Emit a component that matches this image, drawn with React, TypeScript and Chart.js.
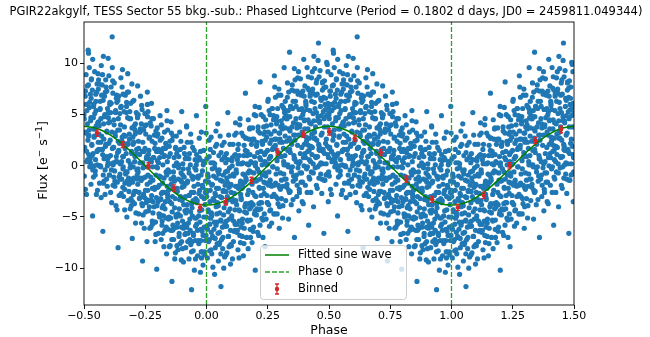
import React, { useEffect, useRef } from "react";
import { Chart, registerables } from "chart.js";

Chart.register(...registerables);

const TITLE =
  "PGIR22akgylf, TESS Sector 55 bkg.-sub.: Phased Lightcurve (Period = 0.1802 d days, JD0 = 2459811.049344)";
const X_LABEL = "Phase";
const LEGEND_LABELS = ["Fitted sine wave", "Phase 0", "Binned"];

const xTickValues = [-0.5, -0.25, 0, 0.25, 0.5, 0.75, 1, 1.25, 1.5];
const yTickValues = [-10, -5, 0, 5, 10];
const xRange = [-0.5, 1.5];
const yRange = [-13.6, 14.05];
const phaseZero = [0, 1];

const sinePhase = [
  -0.5, -0.45, -0.4, -0.35, -0.3, -0.25, -0.2, -0.15, -0.1, -0.05,
  0, 0.05, 0.1, 0.15, 0.2, 0.25, 0.3, 0.35, 0.4, 0.45,
  0.5, 0.55, 0.6, 0.65, 0.7, 0.75, 0.8, 0.85, 0.9, 0.95,
  1, 1.05, 1.1, 1.15, 1.2, 1.25, 1.3, 1.35, 1.4, 1.45, 1.5,
];
const sineFlux = [
  3.86, 3.67, 3.12, 2.27, 1.2, 0.01, -1.18, -2.25, -3.1, -3.65,
  -3.84, -3.65, -3.1, -2.25, -1.18, 0.01, 1.2, 2.27, 3.12, 3.67,
  3.86, 3.67, 3.12, 2.27, 1.2, 0.01, -1.18, -2.25, -3.1, -3.65,
  -3.84, -3.65, -3.1, -2.25, -1.18, 0.01, 1.2, 2.27, 3.12, 3.67, 3.86,
];

const binPhase = [
  -0.447, -0.342, -0.237, -0.132, -0.026, 0.079, 0.184, 0.289, 0.395, 0.5,
  0.605, 0.711, 0.816, 0.921, 1.026, 1.132, 1.237, 1.342, 1.447,
];
const binFlux = [
  3.2, 2.09, 0.0, -2.18, -4.06, -3.51, -1.42, 1.34, 3.09, 3.32,
  2.7, 1.31, -1.3, -3.28, -4.06, -2.89, 0.0, 2.48, 3.55,
];
const binErr = [
  0.32, 0.3, 0.3, 0.32, 0.3, 0.32, 0.3, 0.3, 0.3, 0.32,
  0.3, 0.3, 0.32, 0.3, 0.3, 0.32, 0.3, 0.3, 0.32,
];

// Observed (phase-folded) points, one cycle in [0, 1); shown twice across the axis
const obsPhase = [
  0.001, 0.004, 0.007, 0.009, 0.011, 0.013, 0.015, 0.017, 0.019,
  0.021, 0.024, 0.026, 0.028, 0.031, 0.033, 0.035, 0.037, 0.039,
  0.041, 0.043, 0.046, 0.048, 0.05, 0.052, 0.054, 0.057, 0.059,
  0.061, 0.063, 0.065, 0.068, 0.07, 0.072, 0.074, 0.076, 0.079,
  0.081, 0.083, 0.085, 0.087, 0.09, 0.092, 0.094, 0.096, 0.098,
  0.101, 0.103, 0.106, 0.108, 0.11, 0.112, 0.115, 0.117, 0.119,
  0.121, 0.123, 0.126, 0.128, 0.13, 0.133, 0.135, 0.137, 0.139,
  0.141, 0.144, 0.146, 0.148, 0.15, 0.153, 0.155, 0.157, 0.159,
  0.161, 0.163, 0.166, 0.168, 0.17, 0.172, 0.175, 0.177, 0.179,
  0.181, 0.183, 0.186, 0.188, 0.19, 0.193, 0.195, 0.197, 0.199,
  0.201, 0.204, 0.206, 0.208, 0.211, 0.213, 0.215, 0.217, 0.219,
  0.221, 0.223, 0.226, 0.228, 0.23, 0.232, 0.235, 0.237, 0.239,
  0.241, 0.243, 0.245, 0.248, 0.25, 0.252, 0.255, 0.257, 0.259,
  0.261, 0.263, 0.266, 0.268, 0.27, 0.273, 0.275, 0.277, 0.279,
  0.281, 0.284, 0.286, 0.288, 0.29, 0.293, 0.295, 0.297, 0.299,
  0.301, 0.303, 0.306, 0.308, 0.31, 0.312, 0.315, 0.317, 0.319,
  0.321, 0.323, 0.326, 0.328, 0.33, 0.332, 0.335, 0.337, 0.339,
  0.341, 0.344, 0.346, 0.348, 0.35, 0.353, 0.355, 0.357, 0.359,
  0.361, 0.363, 0.366, 0.368, 0.37, 0.372, 0.375, 0.377, 0.379,
  0.381, 0.383, 0.386, 0.388, 0.39, 0.393, 0.395, 0.397, 0.399,
  0.401, 0.404, 0.406, 0.408, 0.411, 0.413, 0.415, 0.417, 0.419,
  0.421, 0.423, 0.426, 0.428, 0.43, 0.432, 0.435, 0.437, 0.439,
  0.441, 0.443, 0.445, 0.448, 0.45, 0.452, 0.455, 0.457, 0.459,
  0.461, 0.463, 0.466, 0.468, 0.47, 0.473, 0.475, 0.477, 0.479,
  0.481, 0.484, 0.486, 0.488, 0.49, 0.493, 0.495, 0.497, 0.499,
  0.501, 0.503, 0.506, 0.508, 0.51, 0.512, 0.515, 0.517, 0.519,
  0.521, 0.523, 0.526, 0.528, 0.53, 0.532, 0.535, 0.537, 0.539,
  0.541, 0.544, 0.546, 0.548, 0.55, 0.553, 0.555, 0.557, 0.559,
  0.561, 0.563, 0.566, 0.568, 0.57, 0.572, 0.575, 0.577, 0.579,
  0.581, 0.583, 0.586, 0.588, 0.59, 0.593, 0.595, 0.597, 0.599,
  0.601, 0.604, 0.606, 0.608, 0.611, 0.613, 0.615, 0.617, 0.619,
  0.621, 0.623, 0.626, 0.628, 0.63, 0.632, 0.635, 0.637, 0.639,
  0.641, 0.643, 0.645, 0.648, 0.65, 0.652, 0.655, 0.657, 0.659,
  0.661, 0.663, 0.666, 0.668, 0.67, 0.673, 0.675, 0.677, 0.679,
  0.681, 0.684, 0.686, 0.688, 0.69, 0.693, 0.695, 0.697, 0.699,
  0.701, 0.703, 0.706, 0.708, 0.71, 0.712, 0.715, 0.717, 0.719,
  0.721, 0.723, 0.726, 0.728, 0.73, 0.732, 0.735, 0.737, 0.739,
  0.741, 0.743, 0.745, 0.748, 0.75, 0.752, 0.755, 0.757, 0.759,
  0.761, 0.763, 0.766, 0.768, 0.77, 0.773, 0.775, 0.777, 0.779,
  0.781, 0.783, 0.786, 0.788, 0.79, 0.793, 0.795, 0.797, 0.799,
  0.801, 0.804, 0.806, 0.808, 0.811, 0.813, 0.815, 0.817, 0.819,
  0.821, 0.823, 0.826, 0.828, 0.83, 0.832, 0.835, 0.837, 0.839,
  0.841, 0.843, 0.845, 0.848, 0.85, 0.852, 0.855, 0.857, 0.859,
  0.861, 0.863, 0.866, 0.868, 0.87, 0.873, 0.875, 0.877, 0.879,
  0.881, 0.884, 0.886, 0.888, 0.89, 0.893, 0.895, 0.897, 0.899,
  0.901, 0.903, 0.906, 0.908, 0.91, 0.912, 0.915, 0.917, 0.919,
  0.921, 0.923, 0.926, 0.928, 0.93, 0.932, 0.935, 0.937, 0.939,
  0.941, 0.944, 0.946, 0.948, 0.95, 0.953, 0.955, 0.957, 0.959,
  0.961, 0.963, 0.966, 0.968, 0.97, 0.972, 0.975, 0.977, 0.979,
  0.981, 0.983, 0.986, 0.988, 0.99, 0.993, 0.995, 0.997, 0.999,
  // second batch
  0.0, 0.002, 0.005, 0.007, 0.009, 0.012, 0.014, 0.016, 0.018, 0.0195,
  0.02, 0.022, 0.025, 0.027, 0.029, 0.032, 0.034, 0.036, 0.038, 0.0395,
  0.04, 0.042, 0.045, 0.047, 0.049, 0.052, 0.054, 0.056, 0.058, 0.0595,
  0.06, 0.062, 0.065, 0.067, 0.069, 0.072, 0.074, 0.076, 0.078, 0.0795,
  0.08, 0.082, 0.085, 0.087, 0.089, 0.092, 0.094, 0.096, 0.098, 0.0995,
  0.1, 0.102, 0.105, 0.107, 0.109, 0.112, 0.114, 0.116, 0.118, 0.1195,
  0.12, 0.122, 0.125, 0.127, 0.129, 0.132, 0.134, 0.136, 0.138, 0.1395,
  0.14, 0.142, 0.145, 0.147, 0.149, 0.152, 0.154, 0.156, 0.158, 0.1595,
  0.16, 0.162, 0.165, 0.167, 0.169, 0.172, 0.174, 0.176, 0.178, 0.1795,
  0.18, 0.182, 0.185, 0.187, 0.189, 0.192, 0.194, 0.196, 0.198, 0.1995,
  0.2, 0.202, 0.205, 0.207, 0.209, 0.212, 0.214, 0.216, 0.218, 0.2195,
  0.22, 0.222, 0.225, 0.227, 0.229, 0.232, 0.234, 0.236, 0.238, 0.2395,
  0.24, 0.242, 0.245, 0.247, 0.249, 0.252, 0.254, 0.256, 0.258, 0.2595,
  0.26, 0.262, 0.265, 0.267, 0.269, 0.272, 0.274, 0.276, 0.278, 0.2795,
  0.28, 0.282, 0.285, 0.287, 0.289, 0.292, 0.294, 0.296, 0.298, 0.2995,
  0.3, 0.302, 0.305, 0.307, 0.309, 0.312, 0.314, 0.316, 0.318, 0.3195,
  0.32, 0.322, 0.325, 0.327, 0.329, 0.332, 0.334, 0.336, 0.338, 0.3395,
  0.34, 0.342, 0.345, 0.347, 0.349, 0.352, 0.354, 0.356, 0.358, 0.3595,
  0.36, 0.362, 0.365, 0.367, 0.369, 0.372, 0.374, 0.376, 0.378, 0.3795,
  0.38, 0.382, 0.385, 0.387, 0.389, 0.392, 0.394, 0.396, 0.398, 0.3995,
  0.4, 0.402, 0.405, 0.407, 0.409, 0.412, 0.414, 0.416, 0.418, 0.4195,
  0.42, 0.422, 0.425, 0.427, 0.429, 0.432, 0.434, 0.436, 0.438, 0.4395,
  0.44, 0.442, 0.445, 0.447, 0.449, 0.452, 0.454, 0.456, 0.458, 0.4595,
  0.46, 0.462, 0.465, 0.467, 0.469, 0.472, 0.474, 0.476, 0.478, 0.4795,
  0.48, 0.482, 0.485, 0.487, 0.489, 0.492, 0.494, 0.496, 0.498, 0.4995,
  0.5, 0.502, 0.505, 0.507, 0.509, 0.512, 0.514, 0.516, 0.518, 0.5195,
  0.52, 0.522, 0.525, 0.527, 0.529, 0.532, 0.534, 0.536, 0.538, 0.5395,
  0.54, 0.542, 0.545, 0.547, 0.549, 0.552, 0.554, 0.556, 0.558, 0.5595,
  0.56, 0.562, 0.565, 0.567, 0.569, 0.572, 0.574, 0.576, 0.578, 0.5795,
  0.58, 0.582, 0.585, 0.587, 0.589, 0.592, 0.594, 0.596, 0.598, 0.5995,
  0.6, 0.602, 0.605, 0.607, 0.609, 0.612, 0.614, 0.616, 0.618, 0.6195,
  0.62, 0.622, 0.625, 0.627, 0.629, 0.632, 0.634, 0.636, 0.638, 0.6395,
  0.64, 0.642, 0.645, 0.647, 0.649, 0.652, 0.654, 0.656, 0.658, 0.6595,
  0.66, 0.662, 0.665, 0.667, 0.669, 0.672, 0.674, 0.676, 0.678, 0.6795,
  0.68, 0.682, 0.685, 0.687, 0.689, 0.692, 0.694, 0.696, 0.698, 0.6995,
  0.7, 0.702, 0.705, 0.707, 0.709, 0.712, 0.714, 0.716, 0.718, 0.7195,
  0.72, 0.722, 0.725, 0.727, 0.729, 0.732, 0.734, 0.736, 0.738, 0.7395,
  0.74, 0.742, 0.745, 0.747, 0.749, 0.752, 0.754, 0.756, 0.758, 0.7595,
  0.76, 0.762, 0.765, 0.767, 0.769, 0.772, 0.774, 0.776, 0.778, 0.7795,
  0.78, 0.782, 0.785, 0.787, 0.789, 0.792, 0.794, 0.796, 0.798, 0.7995,
  0.8, 0.802, 0.805, 0.807, 0.809, 0.812, 0.814, 0.816, 0.818, 0.8195,
  0.82, 0.822, 0.825, 0.827, 0.829, 0.832, 0.834, 0.836, 0.838, 0.8395,
  0.84, 0.842, 0.845, 0.847, 0.849, 0.852, 0.854, 0.856, 0.858, 0.8595,
  0.86, 0.862, 0.865, 0.867, 0.869, 0.872, 0.874, 0.876, 0.878, 0.8795,
  0.88, 0.882, 0.885, 0.887, 0.889, 0.892, 0.894, 0.896, 0.898, 0.8995,
  0.9, 0.902, 0.905, 0.907, 0.909, 0.912, 0.914, 0.916, 0.918, 0.9195,
  0.92, 0.922, 0.925, 0.927, 0.929, 0.932, 0.934, 0.936, 0.938, 0.9395,
  0.94, 0.942, 0.945, 0.947, 0.949, 0.952, 0.954, 0.956, 0.958, 0.9595,
  0.96, 0.962, 0.965, 0.967, 0.969, 0.972, 0.974, 0.976, 0.978, 0.9795,
  0.98, 0.982, 0.985, 0.987, 0.989, 0.992, 0.994, 0.996, 0.998, 0.9995,
  // third batch (wider band)
  0.0015, 0.0035, 0.006, 0.0085, 0.0105, 0.0135, 0.0155, 0.0185,
  0.0215, 0.0235, 0.026, 0.0285, 0.0305, 0.0335, 0.0355, 0.0385,
  0.0415, 0.0435, 0.046, 0.0485, 0.0505, 0.0535, 0.0555, 0.0585,
  0.0615, 0.0635, 0.066, 0.0685, 0.0705, 0.0735, 0.0755, 0.0785,
  0.0815, 0.0835, 0.086, 0.0885, 0.0905, 0.0935, 0.0955, 0.0985,
  0.1015, 0.1035, 0.106, 0.1085, 0.1105, 0.1135, 0.1155, 0.1185,
  0.1215, 0.1235, 0.126, 0.1285, 0.1305, 0.1335, 0.1355, 0.1385,
  0.1415, 0.1435, 0.146, 0.1485, 0.1505, 0.1535, 0.1555, 0.1585,
  0.1615, 0.1635, 0.166, 0.1685, 0.1705, 0.1735, 0.1755, 0.1785,
  0.1815, 0.1835, 0.186, 0.1885, 0.1905, 0.1935, 0.1955, 0.1985,
  0.2015, 0.2035, 0.206, 0.2085, 0.2105, 0.2135, 0.2155, 0.2185,
  0.2215, 0.2235, 0.226, 0.2285, 0.2305, 0.2335, 0.2355, 0.2385,
  0.2415, 0.2435, 0.246, 0.2485, 0.2505, 0.2535, 0.2555, 0.2585,
  0.2615, 0.2635, 0.266, 0.2685, 0.2705, 0.2735, 0.2755, 0.2785,
  0.2815, 0.2835, 0.286, 0.2885, 0.2905, 0.2935, 0.2955, 0.2985,
  0.3015, 0.3035, 0.306, 0.3085, 0.3105, 0.3135, 0.3155, 0.3185,
  0.3215, 0.3235, 0.326, 0.3285, 0.3305, 0.3335, 0.3355, 0.3385,
  0.3415, 0.3435, 0.346, 0.3485, 0.3505, 0.3535, 0.3555, 0.3585,
  0.3615, 0.3635, 0.366, 0.3685, 0.3705, 0.3735, 0.3755, 0.3785,
  0.3815, 0.3835, 0.386, 0.3885, 0.3905, 0.3935, 0.3955, 0.3985,
  0.4015, 0.4035, 0.406, 0.4085, 0.4105, 0.4135, 0.4155, 0.4185,
  0.4215, 0.4235, 0.426, 0.4285, 0.4305, 0.4335, 0.4355, 0.4385,
  0.4415, 0.4435, 0.446, 0.4485, 0.4505, 0.4535, 0.4555, 0.4585,
  0.4615, 0.4635, 0.466, 0.4685, 0.4705, 0.4735, 0.4755, 0.4785,
  0.4815, 0.4835, 0.486, 0.4885, 0.4905, 0.4935, 0.4955, 0.4985,
  0.5015, 0.5035, 0.506, 0.5085, 0.5105, 0.5135, 0.5155, 0.5185,
  0.5215, 0.5235, 0.526, 0.5285, 0.5305, 0.5335, 0.5355, 0.5385,
  0.5415, 0.5435, 0.546, 0.5485, 0.5505, 0.5535, 0.5555, 0.5585,
  0.5615, 0.5635, 0.566, 0.5685, 0.5705, 0.5735, 0.5755, 0.5785,
  0.5815, 0.5835, 0.586, 0.5885, 0.5905, 0.5935, 0.5955, 0.5985,
  0.6015, 0.6035, 0.606, 0.6085, 0.6105, 0.6135, 0.6155, 0.6185,
  0.6215, 0.6235, 0.626, 0.6285, 0.6305, 0.6335, 0.6355, 0.6385,
  0.6415, 0.6435, 0.646, 0.6485, 0.6505, 0.6535, 0.6555, 0.6585,
  0.6615, 0.6635, 0.666, 0.6685, 0.6705, 0.6735, 0.6755, 0.6785,
  0.6815, 0.6835, 0.686, 0.6885, 0.6905, 0.6935, 0.6955, 0.6985,
  0.7015, 0.7035, 0.706, 0.7085, 0.7105, 0.7135, 0.7155, 0.7185,
  0.7215, 0.7235, 0.726, 0.7285, 0.7305, 0.7335, 0.7355, 0.7385,
  0.7415, 0.7435, 0.746, 0.7485, 0.7505, 0.7535, 0.7555, 0.7585,
  0.7615, 0.7635, 0.766, 0.7685, 0.7705, 0.7735, 0.7755, 0.7785,
  0.7815, 0.7835, 0.786, 0.7885, 0.7905, 0.7935, 0.7955, 0.7985,
  0.8015, 0.8035, 0.806, 0.8085, 0.8105, 0.8135, 0.8155, 0.8185,
  0.8215, 0.8235, 0.826, 0.8285, 0.8305, 0.8335, 0.8355, 0.8385,
  0.8415, 0.8435, 0.846, 0.8485, 0.8505, 0.8535, 0.8555, 0.8585,
  0.8615, 0.8635, 0.866, 0.8685, 0.8705, 0.8735, 0.8755, 0.8785,
  0.8815, 0.8835, 0.886, 0.8885, 0.8905, 0.8935, 0.8955, 0.8985,
  0.9015, 0.9035, 0.906, 0.9085, 0.9105, 0.9135, 0.9155, 0.9185,
  0.9215, 0.9235, 0.926, 0.9285, 0.9305, 0.9335, 0.9355, 0.9385,
  0.9415, 0.9435, 0.946, 0.9485, 0.9505, 0.9535, 0.9555, 0.9585,
  0.9615, 0.9635, 0.966, 0.9685, 0.9705, 0.9735, 0.9755, 0.9785,
  0.9815, 0.9835, 0.986, 0.9885, 0.9905, 0.9935, 0.9955, 0.9985,
];
const obsFlux = [
  -3.0, -6.2, -1.1, -4.5, 0.9, -8.3, -2.4, -5.1, 2.8,
  -4.9, -1.8, -7.0, 0.3, -3.4, -10.6, -2.7, 1.9, -5.8,
  -2.2, -5.5, 4.1, -3.9, -0.8, -7.7, -4.6, -1.4, -11.8,
  -3.1, 0.6, -6.0, -2.5, -4.8, 2.3, -8.9, -1.9, -3.6,
  -5.4, -1.2, -3.0, 5.2, -6.9, -2.1, -0.2, -4.2, -9.6,
  -2.6, -4.9, 0.8, -3.3, -7.4, -1.0, 3.0, -5.7, -2.0,
  -0.4, -3.8, -6.3, 1.6, -2.2, -9.0, -4.4, 4.6, -1.5,
  -3.1, 0.2, -5.6, -1.9, 2.9, -7.6, -0.9, -4.0, 7.1,
  -1.2, -4.6, 1.4, -2.8, -8.1, 0.1, -0.5, 3.7, -5.3,
  0.4, -3.6, -1.8, 2.6, -6.4, -0.7, 5.0, -2.9, -10.2,
  -1.5, 1.9, -4.2, -0.3, 3.4, -6.8, -2.1, 0.8, 8.2,
  0.6, -2.9, 2.4, -0.9, -5.3, 4.8, -1.6, 1.1, -7.9,
  1.3, -1.7, 3.9, -3.6, 0.2, 6.5, -0.6, -5.9, 2.2,
  0.9, 3.1, -2.0, 5.6, -0.1, 1.8, -4.7, 8.8, 2.6,
  2.0, -0.8, 4.4, 0.5, -3.2, 6.9, 1.3, -6.1, 3.2,
  1.0, 3.8, -1.4, 5.9, 2.3, -3.9, 0.4, 9.6, 4.7,
  2.9, 0.1, 4.9, -2.1, 6.7, 1.5, -5.2, 3.6, 11.1,
  3.4, 5.8, -0.2, 2.1, 7.9, -3.3, 4.2, 1.0, -7.0,
  2.5, 6.3, 0.4, 4.1, -1.9, 8.6, 3.0, -4.4, 5.5,
  4.0, 1.2, 7.1, -0.7, 3.3, 5.0, -3.7, 10.4, 2.1,
  3.6, 0.8, 5.9, 2.4, -2.6, 7.6, 4.5, -5.8, 1.5,
  4.2, 6.8, 1.9, -0.6, 3.1, 9.2, 5.1, -4.0, 2.7,
  3.3, 5.6, 0.9, 8.1, 2.5, -2.2, 4.8, 12.0, 1.6,
  4.4, 1.5, 6.6, 3.0, -1.3, 7.4, 0.2, 5.3, -6.6,
  3.8, 6.0, 2.2, -0.9, 4.9, 9.9, 1.1, -3.5, 5.7,
  4.6, 1.8, 7.3, 3.2, -2.8, 5.4, 0.6, 11.3, 2.9,
  3.5, 6.2, 0.3, 4.7, 8.4, 2.0, -4.9, 1.2, 5.8,
  2.8, 5.1, -0.5, 7.0, 3.9, 1.4, -2.4, 9.0, 4.3,
  3.1, 0.0, 5.6, 2.3, -3.1, 6.9, 1.6, -6.4, 10.7,
  2.6, 4.8, -0.4, 1.9, 7.7, 3.4, -2.0, 0.7, 5.2,
  2.2, -0.9, 4.3, 1.0, 6.1, -3.6, 12.6, 8.3, 0.1,
  1.8, 4.0, -1.5, 2.9, 0.4, 6.6, -4.3, 1.3, -8.0,
  1.4, -1.1, 3.5, 0.2, 5.7, -2.7, 2.4, 9.4, -0.3,
  0.9, 3.0, -2.3, 1.7, -0.8, 5.2, -5.0, 7.2, 2.1,
  0.5, -1.8, 2.6, -0.2, 4.6, -3.9, 1.2, -7.1, 6.3,
  -0.1, 2.3, -2.5, 0.9, 4.1, -4.6, 1.6, -0.9, 7.8,
  -0.6, 1.7, -3.2, 0.3, 3.6, -1.4, -5.6, 5.5, -9.3,
  -0.2, -2.8, 1.4, 3.9, -1.1, -4.5, 0.7, -7.4, 6.0,
  -0.9, 1.1, -3.4, 2.8, -1.6, -6.0, 0.4, 4.6, -2.2,
  -1.4, 0.8, -4.0, -2.3, 2.2, -6.7, -0.1, -10.1, 3.7,
  -2.1, 0.3, -4.7, -1.0, 2.5, -3.2, -7.2, 1.3, -5.4,
  -1.7, -3.9, 0.9, -2.6, -6.3, 1.7, -0.6, -8.6, 4.4,
  -2.8, -0.4, -5.2, 1.9, -3.5, -7.8, -1.3, 3.2, -11.3,
  -3.0, -5.8, -1.1, 0.8, -4.1, -8.5, -2.3, 2.9, -6.0,
  -2.5, -4.7, 0.1, -6.9, -3.3, 1.6, -1.4, -9.2, 5.3,
  -3.4, -0.9, -6.1, -2.0, 1.2, -4.4, -8.0, -1.7, 3.8,
  -3.8, -1.5, -5.6, 0.7, -2.9, -7.2, -4.5, 2.3, -12.1,
  -4.1, -1.3, -6.6, -2.6, 1.5, -5.1, -9.1, -0.4, 4.9,
  -3.6, -6.3, -1.0, -4.9, 0.8, -2.4, -10.4, -7.3, 3.3,
  -4.3, -1.9, -6.8, 0.4, -3.2, -8.7, -2.6, 5.8, -5.0,
  // second batch
  -2.6, -5.9, -0.8, -4.3, -1.6, -7.2, -3.5, -5.1, 0.3, -6.5,
  -4.6, -1.9, -6.9, -3.2, -1.0, -5.5, -0.2, -8.0, -2.9, -4.0,
  -1.2, -4.7, -3.6, -6.6, -2.2, -0.4, -7.5, -3.0, -5.3, 1.3,
  -5.4, -3.1, -1.5, -7.0, -2.4, -4.1, 0.9, -5.9, -0.6, -8.7,
  -2.5, -5.9, -1.6, 0.6, -4.5, -7.9, -3.3, -1.0, -6.3, -1.9,
  -1.8, -5.1, 0.0, -3.5, -0.8, -6.4, -2.7, -4.3, 1.1, -5.7,
  -3.4, -0.7, -5.7, -2.0, 0.2, -4.3, 1.0, -6.8, -1.7, -2.8,
  0.2, -3.3, -2.2, -5.2, -0.8, 1.0, -6.1, -1.6, -3.9, 2.7,
  -3.7, -1.4, 0.2, -5.3, -0.7, -2.4, 2.6, -4.2, 1.1, -7.0,
  -0.6, -4.0, 0.3, 2.5, -2.6, -6.0, -1.4, 0.9, -4.4, 0.0,
  0.3, -3.0, 2.1, -1.4, 1.3, -4.3, -0.6, -2.2, 3.2, -3.6,
  -1.3, 1.4, -3.6, 0.1, 2.3, -2.2, 3.1, -4.7, 0.4, -0.7,
  2.5, -1.0, 0.1, -2.9, 1.5, 3.3, -3.8, 0.7, -1.6, 5.0,
  -1.4, 0.9, 2.5, -3.0, 1.6, -0.1, 4.9, -1.9, 3.4, -4.7,
  1.7, -1.7, 2.6, 4.8, -0.3, -3.7, 0.9, 3.2, -2.1, 2.3,
  2.6, -0.7, 4.4, 0.9, 3.6, -2.0, 1.7, 0.1, 5.5, -1.3,
  1.0, 3.7, -1.3, 2.4, 4.6, 0.1, 5.4, -2.4, 2.7, 1.6,
  4.8, 1.3, 2.4, -0.6, 3.8, 5.6, -1.5, 3.0, 0.7, 7.3,
  0.7, 3.0, 4.6, -0.9, 3.7, 2.0, 7.0, 0.2, 5.5, -2.6,
  3.8, 0.4, 4.7, 6.9, 1.8, -1.6, 3.0, 5.3, 0.0, 4.4,
  4.5, 1.2, 6.3, 2.8, 5.5, -0.1, 3.6, 2.0, 7.4, 0.6,
  2.7, 5.4, 0.4, 4.1, 6.3, 1.8, 7.1, -0.7, 4.4, 3.3,
  6.2, 2.7, 3.8, 0.8, 5.2, 7.0, -0.1, 4.4, 2.1, 8.7,
  1.9, 4.2, 5.8, 0.3, 4.9, 3.2, 8.2, 1.4, 6.7, -1.4,
  4.6, 1.2, 5.5, 7.7, 2.6, -0.8, 3.8, 6.1, 0.8, 5.2,
  5.0, 1.7, 6.8, 3.3, 6.0, 0.4, 4.1, 2.5, 7.9, 1.1,
  3.0, 5.7, 0.7, 4.4, 6.6, 2.1, 7.4, -0.4, 4.7, 3.6,
  6.0, 2.9, 3.6, 0.6, 5.4, 7.2, 0.1, 4.2, 2.3, 8.4,
  1.6, 3.9, 5.5, 0.0, 4.6, 2.9, 7.9, 1.1, 6.4, -1.7,
  4.1, 0.7, 5.0, 7.2, 2.1, -1.3, 3.3, 5.6, 0.3, 4.7,
  4.2, 0.9, 6.0, 2.5, 5.2, -0.4, 3.3, 1.7, 7.1, 0.3,
  1.8, 4.5, -0.5, 3.2, 5.4, 0.9, 6.2, -1.6, 3.5, 2.4,
  4.6, 1.5, 2.2, -0.8, 4.0, 5.8, -1.3, 2.8, 0.9, 7.0,
  -0.1, 2.2, 3.8, -1.7, 2.9, 1.2, 6.2, -0.6, 4.7, -3.4,
  2.2, -1.2, 3.1, 5.3, 0.2, -3.2, 1.4, 3.7, -1.6, 2.8,
  2.1, -1.2, 3.9, 0.4, 3.1, -2.5, 1.2, -0.4, 5.0, -1.8,
  -0.3, 2.4, -2.6, 1.1, 3.3, -1.2, 4.1, -3.7, 1.4, 0.3,
  2.3, -1.2, -0.1, -3.1, 1.7, 3.1, -3.6, 0.9, -1.8, 4.8,
  -2.4, -0.1, 1.5, -4.0, 0.6, -1.1, 3.9, -2.9, 2.4, -5.7,
  -0.1, -3.5, 0.8, 3.0, -2.1, -5.5, -0.9, 1.4, -3.9, 0.5,
  -0.2, -3.5, 1.6, -1.9, 0.8, -4.8, -1.1, -2.7, 2.7, -4.1,
  -2.6, 0.1, -4.9, -1.2, 1.0, -3.5, 1.8, -6.0, -0.9, -2.0,
  0.4, -3.1, -2.4, -5.0, -0.6, 1.2, -6.3, -1.8, -3.7, 2.5,
  -4.5, -2.2, -0.6, -6.1, -1.5, -3.2, 1.8, -5.0, 0.3, -7.8,
  -2.2, -5.6, -1.3, 0.9, -4.2, -7.6, -3.0, -0.7, -6.0, -1.6,
  -2.1, -5.4, -0.3, -3.8, -1.1, -6.7, -3.0, -4.6, 0.8, -6.0,
  -4.3, -1.6, -6.6, -2.9, -0.7, -5.2, 0.1, -7.7, -2.6, -3.7,
  -1.0, -4.9, -3.4, -6.8, -2.0, -0.2, -7.3, -3.2, -5.1, 1.1,
  -5.7, -3.4, -1.8, -7.3, -2.7, -4.4, 0.6, -6.2, -0.9, -9.0,
  -3.0, -6.4, -2.1, 0.1, -5.0, -8.4, -3.8, -1.5, -6.8, -2.4,
  // third batch
  0.7, -9.0, -1.0, -7.4, 2.5, -5.7, 1.6, -8.2,
  -8.6, -0.3, -9.9, 1.3, -6.2, 0.2, -7.1, 3.4,
  2.1, -7.6, -0.5, -9.3, 1.0, -6.5, 2.9, -8.6,
  -7.2, 2.0, -8.1, -0.9, -10.0, 0.8, -5.7, 0.3,
  1.2, -8.5, -0.5, -6.9, 3.0, -5.2, 2.1, -7.7,
  -7.8, 0.5, -9.1, 2.1, -5.4, 1.0, -6.3, 4.2,
  3.2, -6.5, 0.6, -8.2, 2.1, -5.4, 4.0, -7.5,
  -6.0, 3.2, -6.9, 0.3, -8.8, 2.0, -4.5, 1.5,
  2.7, -7.0, 1.0, -5.4, 4.5, -3.7, 3.6, -6.2,
  -6.2, 2.1, -7.5, 3.7, -3.8, 2.6, -4.7, 5.8,
  4.9, -4.8, 2.3, -6.5, 3.8, -3.7, 5.7, -5.8,
  -4.2, 5.0, -5.1, 2.1, -7.0, 3.8, -2.7, 3.3,
  4.5, -5.2, 2.8, -3.6, 6.3, -1.9, 5.4, -4.4,
  -4.3, 4.0, -5.6, 5.6, -1.9, 4.5, -2.8, 7.7,
  6.7, -3.0, 4.1, -4.7, 5.6, -1.9, 7.5, -4.0,
  -2.3, 6.9, -3.2, 4.0, -5.1, 5.7, -0.8, 5.2,
  6.3, -3.4, 4.6, -1.8, 8.1, -0.1, 7.2, -2.6,
  -2.5, 5.8, -3.8, 7.4, -0.1, 6.3, -1.0, 9.5,
  8.4, -1.3, 5.8, -3.0, 7.3, -0.2, 9.2, -2.3,
  -0.7, 8.5, -1.6, 5.6, -3.5, 7.3, 0.8, 6.8,
  7.8, -1.9, 6.1, -0.3, 9.6, 1.4, 8.7, -1.1,
  -1.3, 7.0, -2.6, 8.6, 1.1, 7.5, 0.2, 10.7,
  9.5, -0.2, 6.9, -1.9, 8.4, 0.9, 10.3, -1.2,
  0.1, 9.3, -0.8, 6.4, -2.7, 8.1, 1.6, 7.6,
  8.3, -1.4, 6.6, 0.2, 10.1, 1.9, 9.2, -0.6,
  -1.0, 7.3, -2.3, 8.9, 1.4, 7.8, 0.5, 11.0,
  9.6, -0.1, 7.0, -1.8, 8.5, 1.0, 10.4, -1.1,
  0.0, 9.2, -0.9, 6.3, -2.8, 8.0, 1.5, 7.5,
  8.0, -1.7, 6.3, -0.1, 9.8, 1.6, 8.9, -0.9,
  -1.5, 6.8, -2.8, 8.4, 0.9, 7.3, 0.0, 10.5,
  8.8, -0.9, 6.2, -2.6, 7.7, 0.2, 9.6, -1.9,
  -1.1, 8.1, -2.0, 5.2, -3.9, 6.9, 0.4, 6.4,
  6.8, -2.9, 5.1, -1.3, 8.6, 0.4, 7.7, -2.1,
  -3.0, 5.3, -4.3, 6.9, -0.6, 5.8, -1.5, 9.0,
  7.2, -2.5, 4.6, -4.2, 6.1, -1.4, 8.0, -3.5,
  -2.8, 6.4, -3.7, 3.5, -5.6, 5.2, -1.3, 4.7,
  5.0, -4.7, 3.3, -3.1, 6.8, -1.4, 5.9, -3.9,
  -4.8, 3.5, -6.1, 5.1, -2.4, 4.0, -3.3, 7.2,
  5.3, -4.4, 2.7, -6.1, 4.2, -3.3, 6.1, -5.4,
  -4.6, 4.6, -5.5, 1.7, -7.4, 3.4, -3.1, 2.9,
  3.1, -6.6, 1.4, -5.0, 4.9, -3.3, 4.0, -5.8,
  -6.6, 1.7, -7.9, 3.3, -4.2, 2.2, -5.1, 5.4,
  3.5, -6.2, 0.9, -7.9, 2.4, -5.1, 4.3, -7.2,
  -6.3, 2.9, -7.2, 0.0, -9.1, 1.7, -4.8, 1.2,
  1.5, -8.2, -0.2, -6.6, 3.3, -4.9, 2.4, -7.4,
  -8.1, 0.2, -9.4, 1.8, -5.7, 0.7, -6.6, 3.9,
  2.3, -7.4, -0.3, -9.1, 1.2, -6.3, 3.1, -8.4,
  -7.4, 1.8, -8.3, -1.1, -10.2, 0.6, -5.9, 0.1,
  0.5, -8.8, -1.2, -7.6, 2.7, -5.5, 1.4, -8.4,
  -8.4, -0.5, -9.7, 1.5, -6.0, 0.4, -7.3, 3.2,
];

const FONT = "'DejaVu Sans', sans-serif";
const OBS_COLOR = "#1f77b4";
const SINE_COLOR = "#008000";
const PHASE0_COLOR = "#2ca02c";
const BIN_COLOR = "#d62728";

function fmtX(v: number) {
  const s = Math.abs(v).toFixed(2);
  return v < 0 ? "\u2212" + s : s;
}
function fmtY(v: number) {
  const s = String(Math.abs(v));
  return v < 0 ? "\u2212" + s : s;
}

function drawErrorBar(ctx: CanvasRenderingContext2D, x: number, y1: number, y2: number, cap: number) {
  ctx.beginPath();
  ctx.moveTo(x, y1);
  ctx.lineTo(x, y2);
  ctx.moveTo(x - cap, y1);
  ctx.lineTo(x + cap, y1);
  ctx.moveTo(x - cap, y2);
  ctx.lineTo(x + cap, y2);
  ctx.stroke();
}

const decorPlugin = {
  id: "decor",
  beforeDatasetDraw(chart: any, args: any) {
    const ds = chart.data.datasets[args.index];
    if (ds.label !== "Binned") return;
    const ctx = chart.ctx as CanvasRenderingContext2D;
    const xs = chart.scales.x;
    const ys = chart.scales.y;
    ctx.save();
    ctx.strokeStyle = BIN_COLOR;
    ctx.lineWidth = 1.3;
    binPhase.forEach((p, i) => {
      const x = xs.getPixelForValue(p);
      const y1 = ys.getPixelForValue(binFlux[i] - binErr[i]);
      const y2 = ys.getPixelForValue(binFlux[i] + binErr[i]);
      drawErrorBar(ctx, x, y1, y2, 2);
    });
    ctx.restore();
  },
  afterDraw(chart: any) {
    const ctx = chart.ctx as CanvasRenderingContext2D;
    const a = chart.chartArea;
    ctx.save();
    // frame
    ctx.strokeStyle = "#000";
    ctx.lineWidth = 0.9;
    ctx.strokeRect(a.left, a.top, a.right - a.left, a.bottom - a.top);

    // title
    ctx.fillStyle = "#000";
    ctx.font = `11.5px ${FONT}`;
    ctx.textAlign = "center";
    ctx.textBaseline = "middle";
    ctx.fillText(TITLE, 326, 12);

    // x label
    ctx.font = `12.5px ${FONT}`;
    ctx.textBaseline = "alphabetic";
    ctx.fillText(X_LABEL, (a.left + a.right) / 2, 334);

    // y label with superscripts
    const segs: [string, boolean][] = [
      ["Flux [e", false],
      ["\u2212", true],
      [" s", false],
      ["\u22121", true],
      ["]", false],
    ];
    const big = `12.5px ${FONT}`;
    const small = `9px ${FONT}`;
    let total = 0;
    const widths = segs.map(([t, sup]) => {
      ctx.font = sup ? small : big;
      const w = ctx.measureText(t).width;
      total += w;
      return w;
    });
    ctx.translate(47, (a.top + a.bottom) / 2 - 3);
    ctx.rotate(-Math.PI / 2);
    ctx.textAlign = "left";
    let cx = -total / 2;
    segs.forEach(([t, sup], i) => {
      ctx.font = sup ? small : big;
      ctx.fillText(t, cx, sup ? -5 : 0);
      cx += widths[i];
    });
    ctx.setTransform(1, 0, 0, 1, 0, 0);

    // legend
    const lx = 260.5, ly = 245.5, lw = 146, lh = 54;
    ctx.beginPath();
    (ctx as any).roundRect(lx, ly, lw, lh, 3);
    ctx.fillStyle = "rgba(255,255,255,0.8)";
    ctx.fill();
    ctx.strokeStyle = "#cccccc";
    ctx.lineWidth = 1;
    ctx.stroke();

    const rows = [255, 272, 289];
    ctx.lineWidth = 1.5;
    ctx.strokeStyle = SINE_COLOR;
    ctx.beginPath();
    ctx.moveTo(265, rows[0]);
    ctx.lineTo(289, rows[0]);
    ctx.stroke();

    ctx.strokeStyle = PHASE0_COLOR;
    ctx.lineWidth = 1.3;
    ctx.setLineDash([5, 2]);
    ctx.beginPath();
    ctx.moveTo(265, rows[1]);
    ctx.lineTo(289, rows[1]);
    ctx.stroke();
    ctx.setLineDash([]);

    ctx.strokeStyle = BIN_COLOR;
    ctx.lineWidth = 1.3;
    drawErrorBar(ctx, 277, rows[2] - 5, rows[2] + 5, 2);
    ctx.fillStyle = BIN_COLOR;
    ctx.beginPath();
    ctx.arc(277, rows[2], 2.2, 0, Math.PI * 2);
    ctx.fill();

    ctx.fillStyle = "#000";
    ctx.font = `11.5px ${FONT}`;
    ctx.textAlign = "left";
    ctx.textBaseline = "middle";
    LEGEND_LABELS.forEach((t, i) => ctx.fillText(t, 298, rows[i] + 0.5));
    ctx.restore();
  },
};

export default function App() {
  const canvasRef = useRef<HTMLCanvasElement | null>(null);

  useEffect(() => {
    document.body.style.margin = "0";
    const canvas = canvasRef.current;
    if (!canvas) return;

    const obsPoints: { x: number; y: number }[] = [];
    obsPhase.forEach((p, i) => {
      [p - 1, p, p + 1].forEach((q) => {
        if (q >= xRange[0] && q <= xRange[1]) obsPoints.push({ x: q, y: obsFlux[i] });
      });
    });

    const sinePoints = sinePhase.map((p, i) => ({ x: p, y: sineFlux[i] }));
    const binPoints = binPhase.map((p, i) => ({ x: p, y: binFlux[i] }));

    const phaseDatasets = phaseZero.map((p) => ({
      type: "line" as const,
      label: "Phase 0",
      data: [
        { x: p, y: yRange[0] },
        { x: p, y: yRange[1] },
      ],
      borderColor: PHASE0_COLOR,
      borderWidth: 1.3,
      borderDash: [5, 2],
      pointRadius: 0,
      order: 3,
    }));

    const chart = new Chart(canvas, {
      type: "scatter",
      data: {
        datasets: [
          {
            label: "Observed",
            data: obsPoints,
            pointRadius: 2.6,
            pointBackgroundColor: OBS_COLOR,
            pointBorderWidth: 0,
            borderWidth: 0,
            order: 5,
          } as any,
          {
            type: "line",
            label: "Fitted sine wave",
            data: sinePoints,
            borderColor: SINE_COLOR,
            borderWidth: 1.5,
            pointRadius: 0,
            cubicInterpolationMode: "monotone",
            order: 4,
          } as any,
          ...(phaseDatasets as any[]),
          {
            label: "Binned",
            data: binPoints,
            pointRadius: 2.2,
            pointBackgroundColor: BIN_COLOR,
            pointBorderWidth: 0,
            order: 1,
          } as any,
        ],
      },
      options: {
        responsive: false,
        animation: false,
        events: [],
        layout: { padding: { top: 22, right: 76, left: 0, bottom: 0 } },
        plugins: {
          legend: { display: false },
          tooltip: { enabled: false },
          title: { display: false },
        },
        scales: {
          x: {
            type: "linear",
            min: xRange[0],
            max: xRange[1],
            afterBuildTicks: (s: any) => {
              s.ticks = xTickValues.map((v) => ({ value: v }));
            },
            afterFit: (s: any) => {
              s.height = 32;
            },
            ticks: {
              callback: (v: any) => fmtX(Number(v)),
              font: { family: FONT, size: 11 },
              color: "#000",
              padding: 1,
              maxRotation: 0,
              autoSkip: false,
            },
            grid: {
              display: true,
              drawOnChartArea: false,
              drawTicks: true,
              tickLength: 4,
              color: "#000",
              lineWidth: 0.9,
            },
            border: { display: false },
          },
          y: {
            type: "linear",
            min: yRange[0],
            max: yRange[1],
            afterBuildTicks: (s: any) => {
              s.ticks = yTickValues.map((v) => ({ value: v }));
            },
            afterFit: (s: any) => {
              s.width = 84;
            },
            ticks: {
              callback: (v: any) => fmtY(Number(v)),
              font: { family: FONT, size: 11 },
              color: "#000",
              padding: 2,
              autoSkip: false,
            },
            grid: {
              display: true,
              drawOnChartArea: false,
              drawTicks: true,
              tickLength: 4,
              color: "#000",
              lineWidth: 0.9,
            },
            border: { display: false },
          },
        },
      },
      plugins: [decorPlugin as any],
    });

    return () => chart.destroy();
  }, []);

  return (
    <div style={{ width: 650, height: 337, background: "#fff" }}>
      <canvas ref={canvasRef} width={650} height={337} style={{ display: "block" }} />
    </div>
  );
}
